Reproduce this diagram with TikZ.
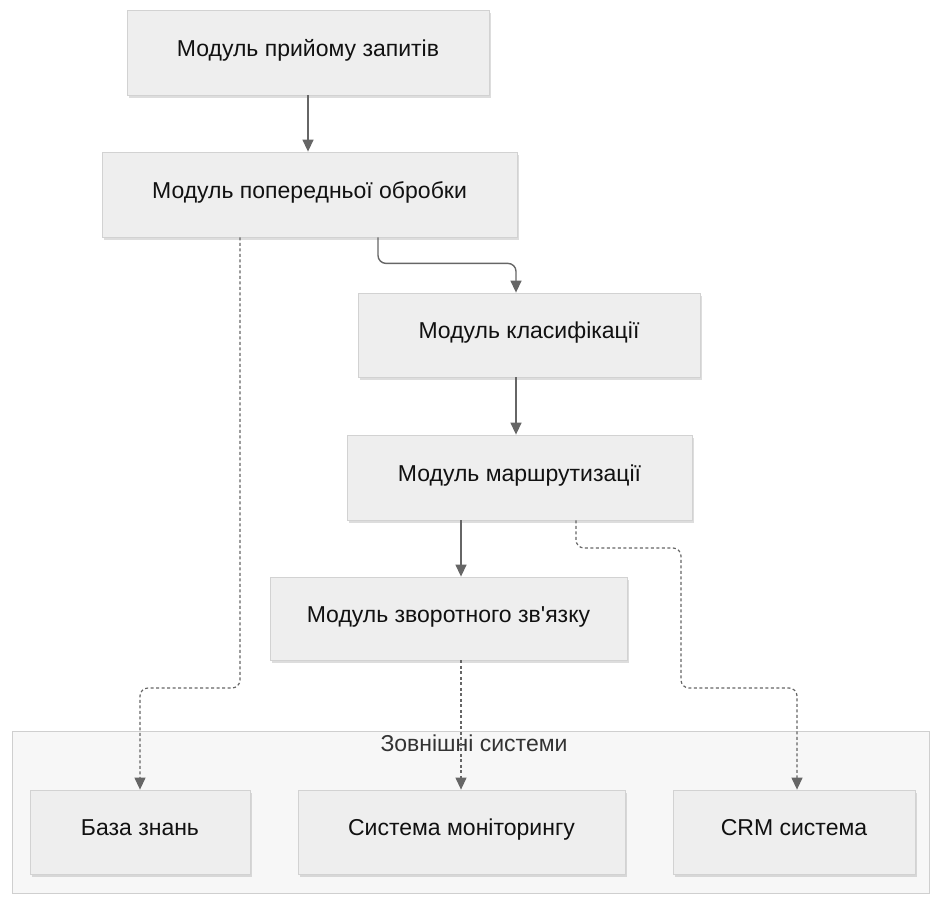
\documentclass[tikz,border=0pt]{standalone}
\usepackage{fontspec}
\setmainfont{Liberation Sans}
\usetikzlibrary{arrows.meta,shadows,positioning}

\definecolor{boxfill}{HTML}{EEEEEE}
\definecolor{boxline}{HTML}{D2D2D2}
\definecolor{grpfill}{HTML}{F7F7F7}
\definecolor{grpline}{HTML}{CFCFCF}
\definecolor{linkcol}{HTML}{666666}
\definecolor{txtcol}{HTML}{111111}

\tikzset{
  label text/.style={font=\fontsize{23}{26}\selectfont,
    text height=0.9em, text depth=0.184em},
  module/.style={rectangle, draw=boxline, line width=0.8pt, fill=boxfill,
    text=txtcol, label text,
    drop shadow={shadow xshift=2pt, shadow yshift=-3pt, opacity=0.22, fill=black!60}},
  flow/.style={draw=linkcol, line width=1.4pt, rounded corners=8pt,
    -{Triangle[width=11pt,length=12pt]}},
  aux/.style={draw=linkcol, line width=1.2pt, rounded corners=8pt,
    dash pattern=on 3pt off 2.5pt, -{Triangle[width=11pt,length=12pt]}},
}

\begin{document}
\begin{tikzpicture}[x=1pt, y=-1pt]
  \useasboundingbox (0,0) rectangle (931,897);

  % group frame for the external systems
  \node[rectangle, draw=grpline, line width=0.8pt, fill=grpfill,
        minimum width=917pt, minimum height=162pt, inner sep=0pt]
        (ext) at (470.5,812) {};
  \node[text=black!80, label text] (extlbl) at (474,748) {Зовнішні системи};

  % processing pipeline
  \node[module, minimum width=362pt, minimum height=85pt] (n1) at (308,52.5) {Модуль прийому запитів};
  \node[module, minimum width=415pt, minimum height=85pt] (n2) at (309.5,194.5) {Модуль попередньої обробки};
  \node[module, minimum width=342pt, minimum height=84pt] (n3) at (529,335) {Модуль класифікації};
  \node[module, minimum width=345pt, minimum height=85pt] (n4) at (519.5,477.5) {Модуль маршрутизації};
  \node[module, minimum width=357pt, minimum height=83pt] (n5) at (448.5,618.5) {Модуль зворотного зв\textquotesingle язку};

  % external systems
  \node[module, minimum width=220pt, minimum height=84pt] (b1) at (140,832) {База знань};
  \node[module, minimum width=327pt, minimum height=84pt] (b2) at (461.5,832) {Система моніторингу};
  \node[module, minimum width=242pt, minimum height=84pt] (b3) at (794,832) {CRM система};

  % end and bend points of the routed links
  \coordinate (s23) at ([xshift=68.5pt]n2.south);
  \coordinate (t23) at ([xshift=-13pt]n3.north);
  \coordinate (m23) at ([yshift=-26pt]n2.south);
  \coordinate (kbturn) at (0,688);
  \coordinate (crmstep) at (681,548);
  \coordinate (crmturn) at (681,688);

  % main flow
  \draw[flow] (n1.south) -- (n1.south |- n2.north);
  \draw[flow] (s23) -- (s23 |- m23) -- (t23 |- m23) -- (t23);
  \draw[flow] ([xshift=-13pt]n3.south) -- ([xshift=-13pt]n3.south |- n4.north);
  \draw[flow] ([xshift=-58.5pt]n4.south) -- ([xshift=-58.5pt]n4.south |- n5.north);

  % links to external systems
  \draw[aux] ([xshift=-69.5pt]n2.south) -- ([xshift=-69.5pt]n2.south |- kbturn)
             -- (b1.north |- kbturn) -- (b1.north);
  \draw[aux] ([xshift=12.5pt]n5.south) -- ([xshift=12.5pt]n5.south |- b2.north);
  \draw[aux] ([xshift=56.5pt]n4.south) -- ([xshift=56.5pt]n4.south |- crmstep)
             -- (crmstep) -- (crmturn) -- ([xshift=3pt]b3.north |- crmturn) -- ([xshift=3pt]b3.north);
\end{tikzpicture}
\end{document}
